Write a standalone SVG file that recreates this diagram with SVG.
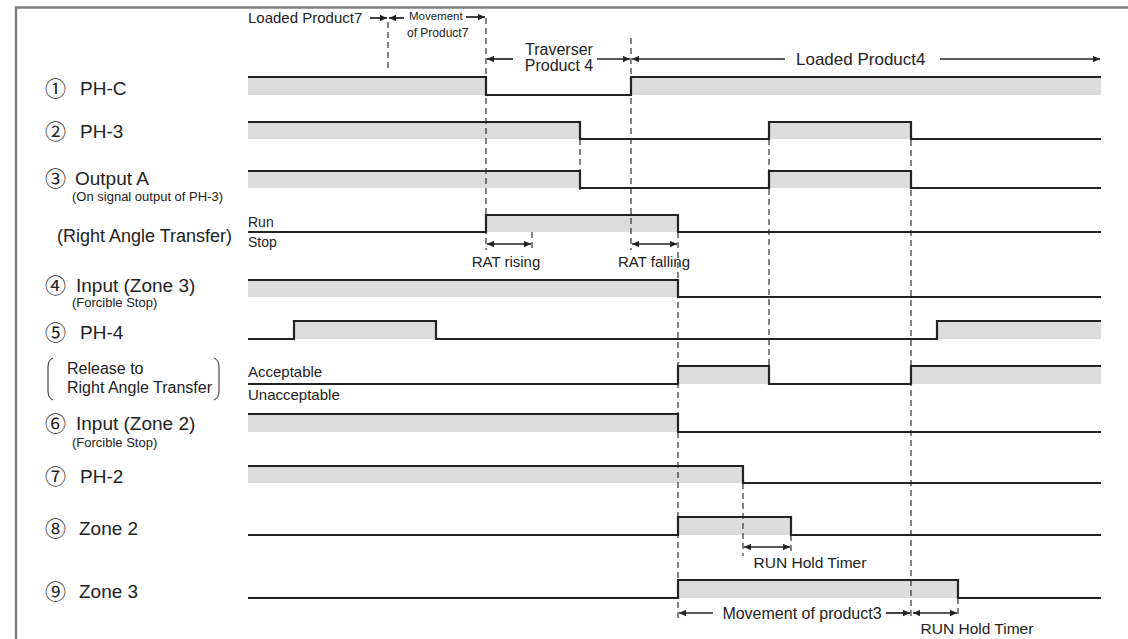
<svg xmlns="http://www.w3.org/2000/svg" width="1128" height="639" viewBox="0 0 1128 639">
<defs>
<marker id="ah" viewBox="0 0 10 10" refX="10" refY="5" markerWidth="9" markerHeight="7" markerUnits="userSpaceOnUse" orient="auto-start-reverse"><path d="M0,0.5 L10,5 L0,9.5 z" fill="#222"/></marker>
</defs>
<style>
text{font-family:"Liberation Sans",Arial,"Noto Sans CJK JP",sans-serif;fill:#222}
.cn{font-family:"Noto Sans CJK JP","DejaVu Sans",sans-serif;font-size:21px}
.lb{font-size:19px}
.sub{font-size:13px}
.fill{fill:#dcdcdc;stroke:none}
.sig{fill:none;stroke:#222;stroke-width:2.2;stroke-linejoin:miter}
.dash{stroke:#333;stroke-width:1.2;stroke-dasharray:6 4;fill:none}
.arr{stroke:#222;stroke-width:1.7;fill:none}
.frame{stroke:#808080;stroke-width:2.5;fill:none}
</style>
<rect width="1128" height="639" fill="#fff"/>
<path class="frame" d="M16,639 L16,7.5 L1128,7.5"/>

<g id="labels">
<g id="lbl-1"><text class="cn" x="45" y="96">①</text><text class="lb" x="80" y="95">PH-C</text></g>
<g id="lbl-2"><text class="cn" x="45" y="139">②</text><text class="lb" x="80" y="138">PH-3</text></g>
<g id="lbl-3"><text class="cn" x="45" y="186">③</text><text class="lb" x="75" y="185">Output A</text><text class="sub" x="72" y="201">(On signal output of PH-3)</text></g>
<g id="lbl-rat"><text x="57" y="242" style="font-size:18px">(Right Angle Transfer)</text></g>
<g id="lbl-4"><text class="cn" x="45" y="293">④</text><text class="lb" x="76" y="292">Input (Zone 3)</text><text class="sub" x="72" y="307">(Forcible Stop)</text></g>
<g id="lbl-5"><text class="cn" x="45" y="340">⑤</text><text class="lb" x="80" y="339">PH-4</text></g>
<g id="lbl-rel"><path d="M53,358 Q48,360 48,367 L48,391 Q48,398 53,400 M214,358 Q219,360 219,367 L219,391 Q219,398 214,400" stroke="#222" stroke-width="1" fill="none"/><text x="67" y="374" style="font-size:16px">Release to</text><text x="67" y="393" style="font-size:16px">Right Angle Transfer</text></g>
<g id="lbl-6"><text class="cn" x="45" y="431">⑥</text><text class="lb" x="76" y="430">Input (Zone 2)</text><text class="sub" x="72" y="447">(Forcible Stop)</text></g>
<g id="lbl-7"><text class="cn" x="45" y="484">⑦</text><text class="lb" x="80" y="483">PH-2</text></g>
<g id="lbl-8"><text class="cn" x="45" y="536">⑧</text><text class="lb" x="79" y="535">Zone 2</text></g>
<g id="lbl-9"><text class="cn" x="45" y="599">⑨</text><text class="lb" x="79" y="598">Zone 3</text></g>
</g>

<g id="fills">
<rect class="fill" x="248" y="77" width="238" height="18"/><rect class="fill" x="631" y="77" width="470" height="18"/>
<rect class="fill" x="248" y="122" width="332" height="17"/><rect class="fill" x="769" y="122" width="142" height="17"/>
<rect class="fill" x="248" y="171" width="332" height="17"/><rect class="fill" x="769" y="171" width="142" height="17"/>
<rect class="fill" x="486" y="215" width="192" height="17"/>
<rect class="fill" x="248" y="280" width="430" height="17"/>
<rect class="fill" x="294" y="321" width="142" height="18"/><rect class="fill" x="937" y="321" width="164" height="18"/>
<rect class="fill" x="678" y="366" width="91" height="18"/><rect class="fill" x="911" y="366" width="190" height="18"/>
<rect class="fill" x="248" y="414" width="430" height="18"/>
<rect class="fill" x="248" y="466" width="495" height="17"/>
<rect class="fill" x="678" y="517" width="113" height="18"/>
<rect class="fill" x="678" y="580" width="280" height="18"/>
</g>

<g id="connectors">
<path class="dash" d="M388,22 V70 M486,18 V250 M631,38 V250 M580,139 V190 M769,139 V384 M911,130 V620 M532,232 V250 M678,232 V620 M743,483 V556 M791,535 V552 M958,598 V617"/>
<path class="arr" marker-end="url(#ah)" d="M370,18 H387"/>
<path class="arr" marker-end="url(#ah)" d="M404,18 H389"/>
<path class="arr" marker-end="url(#ah)" d="M466,17 H485"/>
<path class="arr" marker-end="url(#ah)" d="M513,59 H487"/>
<path class="arr" marker-end="url(#ah)" d="M597,59 H630"/>
<path class="arr" marker-end="url(#ah)" d="M785,59 H632"/>
<path class="arr" marker-end="url(#ah)" d="M940,59 H1100"/>
<path class="arr" marker-start="url(#ah)" marker-end="url(#ah)" d="M487,244 H531"/>
<path class="arr" marker-start="url(#ah)" marker-end="url(#ah)" d="M632,244 H677"/>
<path class="arr" marker-start="url(#ah)" marker-end="url(#ah)" d="M744,547 H790"/>
<path class="arr" marker-end="url(#ah)" d="M713,613 H679"/>
<path class="arr" marker-end="url(#ah)" d="M886,613 H910"/>
<path class="arr" marker-start="url(#ah)" marker-end="url(#ah)" d="M913,613 H957"/>
</g>

<g id="signals">
<polyline class="sig" points="248,77 486,77 486,95 631,95 631,77 1101,77"/>
<polyline class="sig" points="248,122 580,122 580,139 769,139 769,122 911,122 911,139 1101,139"/>
<polyline class="sig" points="248,171 580,171 580,188 769,188 769,171 911,171 911,188 1101,188"/>
<polyline class="sig" points="248,232 486,232 486,215 678,215 678,232 1101,232"/>
<polyline class="sig" points="248,280 678,280 678,297 1101,297"/>
<polyline class="sig" points="248,339 294,339 294,321 436,321 436,339 937,339 937,321 1101,321"/>
<polyline class="sig" points="248,384 678,384 678,366 769,366 769,384 911,384 911,366 1101,366"/>
<polyline class="sig" points="248,414 678,414 678,432 1101,432"/>
<polyline class="sig" points="248,466 743,466 743,483 1101,483"/>
<polyline class="sig" points="248,535 678,535 678,517 791,517 791,535 1101,535"/>
<polyline class="sig" points="248,598 678,598 678,580 958,580 958,598 1101,598"/>
</g>

<g id="annotations">
<text x="248" y="23" style="font-size:15px">Loaded Product7</text>
<text x="409" y="20" style="font-size:11.5px">Movement</text>
<text x="407" y="37" style="font-size:12px">of Product7</text>
<text x="559" y="55" text-anchor="middle" style="font-size:16px">Traverser</text>
<text x="559" y="71" text-anchor="middle" style="font-size:16px">Product 4</text>
<text x="796" y="65" style="font-size:17px">Loaded Product4</text>
<text x="248" y="227" style="font-size:14px">Run</text>
<text x="248" y="247" style="font-size:14px">Stop</text>
<text x="506" y="267" text-anchor="middle" style="font-size:15px">RAT rising</text>
<text x="654" y="267" text-anchor="middle" style="font-size:15px">RAT falling</text>
<text x="248" y="377" style="font-size:15px">Acceptable</text>
<text x="248" y="400" style="font-size:15px">Unacceptable</text>
<text x="810" y="568" text-anchor="middle" style="font-size:15.5px">RUN Hold Timer</text>
<text x="802" y="619" text-anchor="middle" style="font-size:16px">Movement of product3</text>
<text x="977" y="634" text-anchor="middle" style="font-size:15.5px">RUN Hold Timer</text>
</g>
</svg>
